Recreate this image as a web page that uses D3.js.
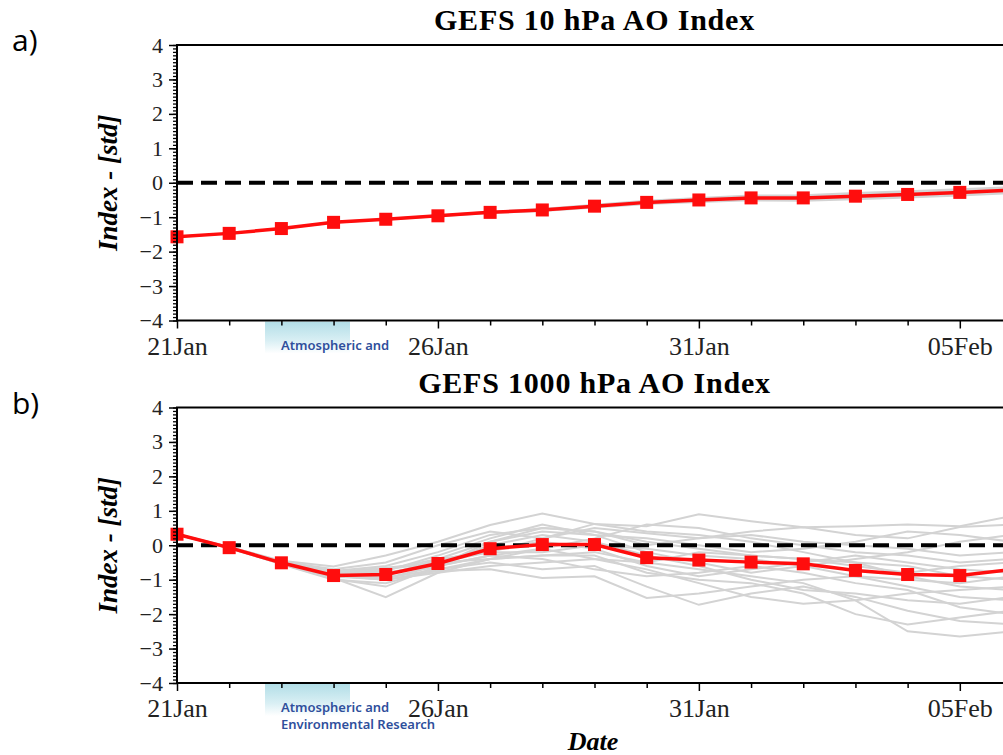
<!DOCTYPE html>
<html>
<head>
<meta charset="utf-8">
<script src="https://cdn.jsdelivr.net/npm/d3@7"></script>
<style>
  body{margin:0;background:#fff}
  svg{display:block}
</style>
</head>
<body>
<svg id="chart"></svg>
<script>
// dias del pronostico (21Jan .. 06Feb)
const days = ["2020-01-21","2020-01-22","2020-01-23","2020-01-24","2020-01-25","2020-01-26",
  "2020-01-27","2020-01-28","2020-01-29","2020-01-30","2020-01-31","2020-02-01","2020-02-02",
  "2020-02-03","2020-02-04","2020-02-05","2020-02-06"];
const labelDays = ["2020-01-21","2020-01-26","2020-01-31","2020-02-05"];
const yTicks = [-4,-3,-2,-1,0,1,2,3,4];
const titles = ["GEFS 10 hPa AO Index","GEFS 1000 hPa AO Index"];
const panelLabels = ["a)","b)"];
const watermark = [["Atmospheric and"],["Atmospheric and","Environmental Research"]];

// 10 hPa: media del ensamble y miembros
const meanTop = [-1.57,-1.47,-1.33,-1.15,-1.06,-0.96,-0.86,-0.79,-0.68,-0.57,-0.50,-0.44,-0.44,-0.39,-0.34,-0.28,-0.21];
const membersTop = [
  [-1.57,-1.47,-1.33,-1.15,-1.05,-0.95,-0.84,-0.76,-0.64,-0.52,-0.44,-0.37,-0.36,-0.30,-0.25,-0.19,-0.13],
  [-1.57,-1.47,-1.33,-1.15,-1.07,-0.97,-0.88,-0.82,-0.72,-0.62,-0.56,-0.51,-0.52,-0.48,-0.43,-0.37,-0.30],
  [-1.57,-1.47,-1.33,-1.16,-1.06,-0.96,-0.86,-0.78,-0.66,-0.54,-0.47,-0.40,-0.40,-0.34,-0.29,-0.23,-0.17],
  [-1.57,-1.47,-1.33,-1.14,-1.06,-0.96,-0.87,-0.80,-0.70,-0.60,-0.53,-0.48,-0.48,-0.44,-0.39,-0.33,-0.26]
];

// 1000 hPa: media del ensamble y miembros
const meanBottom = [0.32,-0.07,-0.51,-0.88,-0.85,-0.53,-0.10,0.02,0.02,-0.36,-0.43,-0.49,-0.54,-0.73,-0.85,-0.88,-0.70];
const membersBottom = [
  [0.32,-0.05,-0.45,-0.62,-0.30,0.10,0.59,0.92,0.62,0.55,0.90,0.70,0.52,0.55,0.60,0.55,0.85],
  [0.33,-0.08,-0.52,-0.95,-1.51,-0.80,-0.40,-0.30,-0.20,-0.50,-0.70,-0.90,-1.10,-1.60,-2.50,-2.65,-2.50],
  [0.31,-0.06,-0.48,-0.75,-0.60,-0.20,0.30,0.50,0.40,0.10,-0.10,-0.30,-0.40,-0.50,-0.60,-0.90,-1.00],
  [0.32,-0.07,-0.55,-1.00,-1.10,-0.70,-0.50,-0.70,-0.60,-1.20,-1.73,-1.40,-1.20,-1.50,-1.90,-2.20,-2.30],
  [0.32,-0.09,-0.50,-0.85,-0.90,-0.40,0.10,0.40,0.30,-0.20,-0.50,-0.80,-0.60,-0.40,-0.20,0.10,0.30],
  [0.33,-0.07,-0.53,-0.92,-0.95,-0.60,-0.30,-0.10,0.20,0.60,0.50,0.20,0.00,-0.20,-0.30,-0.50,-0.40],
  [0.32,-0.06,-0.49,-0.80,-0.70,-0.50,-0.20,0.20,0.62,0.40,0.30,0.10,-0.20,-0.50,-0.90,-1.20,-1.30],
  [0.31,-0.08,-0.51,-0.90,-1.00,-0.75,-0.70,-0.95,-0.90,-1.53,-1.40,-1.20,-1.00,-0.90,-1.20,-1.50,-1.60],
  [0.32,-0.07,-0.50,-0.86,-0.80,-0.55,0.00,0.30,0.10,-0.30,-0.60,-1.00,-1.30,-1.40,-1.60,-1.70,-1.50],
  [0.33,-0.05,-0.47,-0.70,-0.50,0.00,0.40,0.20,0.50,0.35,0.20,0.40,0.52,0.30,0.20,0.53,0.60],
  [0.32,-0.08,-0.54,-0.98,-1.20,-0.60,-0.30,-0.40,-0.70,-0.90,-0.80,-0.60,-0.80,-1.10,-1.30,-1.80,-2.00],
  [0.31,-0.07,-0.52,-0.90,-0.85,-0.45,-0.10,0.10,-0.10,-0.60,-0.90,-0.70,-0.50,-0.30,-0.50,-0.70,-0.80],
  [0.32,-0.06,-0.50,-0.82,-0.75,-0.30,0.20,0.60,0.30,0.20,0.00,-0.20,-0.10,0.10,0.40,0.30,0.10],
  [0.32,-0.07,-0.51,-0.88,-1.00,-0.80,-0.60,-0.50,-0.40,-0.70,-1.10,-1.50,-1.70,-1.60,-1.40,-1.30,-1.20],
  [0.33,-0.08,-0.53,-0.93,-0.70,-0.40,-0.20,-0.20,0.00,-0.10,-0.30,-0.40,-0.60,-0.90,-1.00,-1.10,-0.90],
  [0.32,-0.06,-0.49,-0.78,-0.65,-0.50,-0.40,-0.30,-0.30,-0.80,-1.00,-1.10,-1.40,-2.00,-2.30,-2.10,-1.90],
  [0.31,-0.07,-0.50,-0.84,-0.80,-0.60,0.10,0.50,0.40,0.00,0.20,0.30,0.10,0.00,-0.10,-0.30,-0.20],
  [0.32,-0.07,-0.52,-0.91,-0.95,-0.70,-0.40,-0.10,-0.40,-0.50,-0.20,-0.30,-0.40,-0.60,-0.80,-0.60,-0.50]
];

let width = 1003, height = 755;
const parse = d3.timeParse("%Y-%m-%d");
const fmt = d3.timeFormat("%d%b");
const dates = days.map(parse);
const labelSet = new Set(labelDays);
const serif = '"Liberation Serif","Times New Roman",serif';

const x = d3.scaleTime()
  .domain([dates[0], dates[dates.length-1]])
  .range([177, 1012]);

const svg = d3.select('#chart')
  .attr('width', width)
  .attr('height', height);

// degradado del logo
const grad = svg.append('defs').append('linearGradient')
  .attr('id','wm').attr('x1',0).attr('y1',0).attr('x2',0).attr('y2',1);
grad.append('stop').attr('offset','0%').attr('stop-color','#b2dee7');
grad.append('stop').attr('offset','60%').attr('stop-color','#d9eff4');
grad.append('stop').attr('offset','100%').attr('stop-color','#ffffff');

const panels = [
  {top:45, mean:meanTop, members:membersTop},
  {top:407.5, mean:meanBottom, members:membersBottom}
];

panels.forEach((p,i)=>{
  const bottom = p.top + 275.5;
  const y = d3.scaleLinear().domain([-4,4]).range([bottom, p.top]);
  const g = svg.append('g');
  const line = d3.line().x((d,j)=>x(dates[j])).y(d=>y(d));

  // titulo y etiqueta del panel
  g.append('text')
    .attr('x', 594.5).attr('y', p.top - 15)
    .attr('text-anchor','middle')
    .style('font-family', serif).style('font-weight','bold').style('font-size','30px')
    .style('letter-spacing','0.8px')
    .text(titles[i]);
  g.append('text')
    .attr('x', 12).attr('y', p.top + 6)
    .style('font-family','"Open Sans",sans-serif').style('font-size','30px')
    .text(panelLabels[i]);

  // logo bajo el eje
  g.append('rect')
    .attr('x',265).attr('y',bottom+1).attr('width',85).attr('height',32)
    .attr('fill','url(#wm)');
  g.selectAll('.wmtext')
    .data(watermark[i])
    .join('text')
      .classed('wmtext',true)
      .attr('x',281).attr('y',(d,j)=>bottom+29+j*17)
      .attr('fill','#2f4f9c')
      .style('font-family','"Noto Sans",sans-serif').style('font-weight','600').style('font-size','13px')
      .text(d=>d);

  // miembros del ensamble
  g.selectAll('.member')
    .data(p.members)
    .join('path')
      .classed('member',true)
      .attr('d', line)
      .attr('fill','none')
      .attr('stroke','#d3d3d3')
      .attr('stroke-width',2);

  // linea de cero
  g.append('line')
    .attr('x1',177).attr('x2',1012)
    .attr('y1',y(0)).attr('y2',y(0))
    .attr('stroke','#000').attr('stroke-width',4)
    .attr('stroke-dasharray','16,8');

  // media
  g.append('path')
    .attr('d', line(p.mean))
    .attr('fill','none')
    .attr('stroke','#ff0d0d')
    .attr('stroke-width',3.5);
  g.selectAll('.mark')
    .data(p.mean)
    .join('rect')
      .classed('mark',true)
      .attr('x',(d,j)=>x(dates[j])-6.5)
      .attr('y',d=>y(d)-6.5)
      .attr('width',13).attr('height',13)
      .attr('fill','#ff0d0d');

  // marco
  g.append('rect')
    .attr('x',177).attr('y',p.top)
    .attr('width',1012-177).attr('height',bottom-p.top)
    .attr('fill','none').attr('stroke','#000').attr('stroke-width',2);

  // eje y: menores cada 0.1
  g.append('g')
    .attr('transform','translate(177,0)')
    .call(d3.axisLeft(y).tickValues(d3.range(-40,41).map(v=>v/10)).tickSize(4).tickFormat(''))
    .call(a=>a.select('.domain').remove())
    .call(a=>a.selectAll('line').attr('stroke-width',1.3));
  g.append('g')
    .attr('transform','translate(177,0)')
    .call(d3.axisLeft(y).tickValues(yTicks).tickSize(8).tickPadding(6))
    .call(a=>a.select('.domain').remove())
    .call(a=>a.selectAll('line').attr('stroke-width',1.5))
    .call(a=>a.selectAll('text').style('font-family',serif).style('font-size','22px').attr('fill','#222'));

  // eje x: un tick por dia
  g.append('g')
    .attr('transform',`translate(0,${bottom})`)
    .call(d3.axisBottom(x).tickValues(dates).tickSizeOuter(0)
      .tickFormat((d,j)=>labelSet.has(days[j]) ? fmt(d) : ''))
    .call(a=>a.select('.domain').remove())
    .call(a=>a.selectAll('.tick line')
      .attr('y2',(d,j)=>labelSet.has(days[j]) ? 8 : 5)
      .attr('stroke-width',1.5))
    .call(a=>a.selectAll('text').attr('y',16)
      .style('font-family',serif).style('font-size','26px').attr('fill','#222'));

  // titulo eje y
  g.append('text')
    .attr('transform',`translate(117,${(p.top+bottom)/2}) rotate(-90)`)
    .attr('text-anchor','middle')
    .style('font-family',serif).style('font-weight','bold').style('font-style','italic').style('font-size','27px')
    .text('Index - [std]');
});

svg.append('text')
  .attr('x',593).attr('y',750)
  .attr('text-anchor','middle')
  .style('font-family',serif).style('font-weight','bold').style('font-style','italic').style('font-size','26px')
  .text('Date');
</script>
</body>
</html>
